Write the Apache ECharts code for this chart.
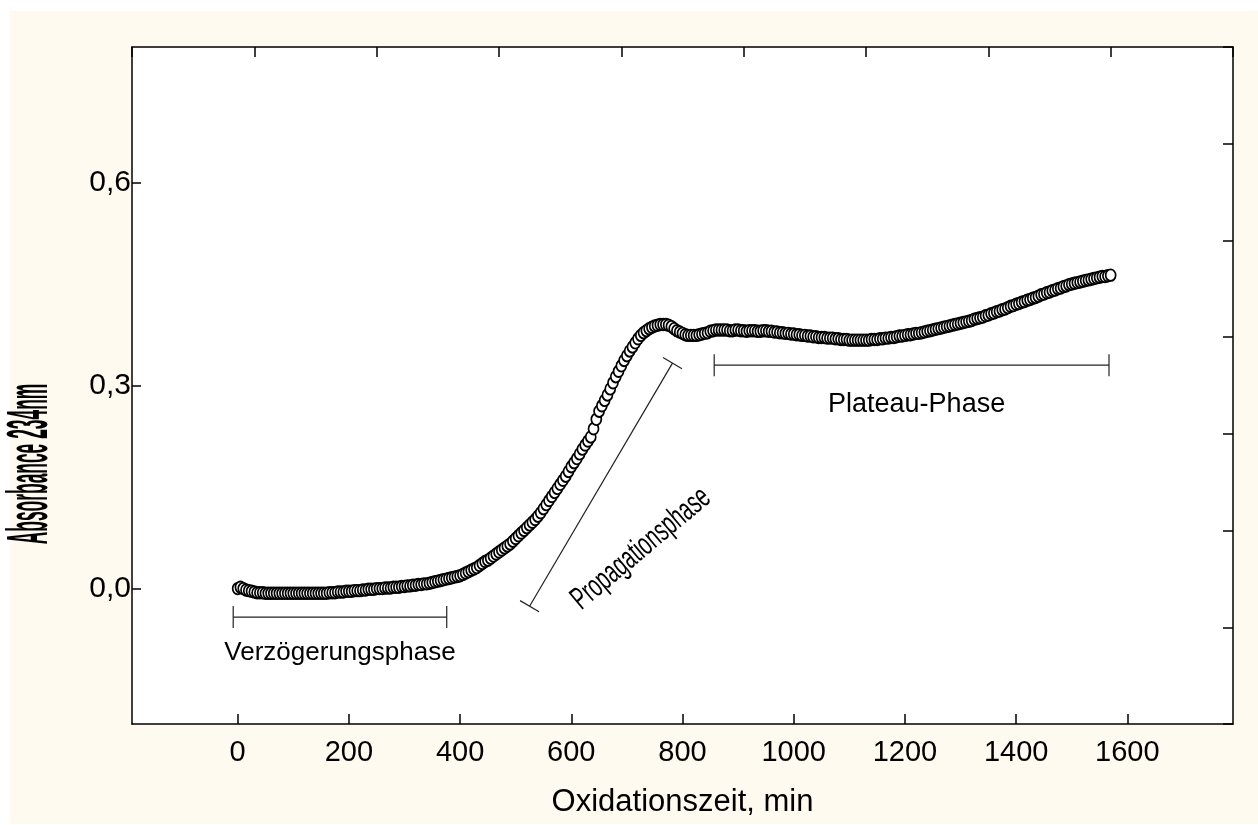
<!DOCTYPE html>
<html>
<head>
<meta charset="utf-8">
<script src="https://cdn.jsdelivr.net/npm/echarts@6/dist/echarts.min.js"></script>
<style>
  html, body { margin: 0; padding: 0; background: #ffffff; }
  #frame { position: absolute; left: 10px; top: 11px; width: 1248px; height: 813px; background: #fffaf0; }
  #chart { position: absolute; left: 0; top: 0; width: 1258px; height: 825px; }
</style>
</head>
<body>
<div id="frame"></div>
<div id="chart"></div>
<script>
// Absorbance at 234 nm during oxidation, one reading every 5 minutes from t = 0
const sampleStepMin = 5;
const absorbance = [
  0.000, 0.002, 0.000, -0.002, -0.003, -0.004, -0.005, -0.006, -0.006, -0.006,
  -0.007, -0.007, -0.007, -0.007, -0.007, -0.007, -0.007, -0.007, -0.007, -0.007,
  -0.007, -0.007, -0.007, -0.007, -0.007, -0.007, -0.007, -0.007, -0.007, -0.007,
  -0.007, -0.007, -0.007, -0.006, -0.006, -0.006, -0.005, -0.005, -0.005, -0.004,
  -0.004, -0.004, -0.003, -0.003, -0.003, -0.002, -0.002, -0.001, -0.001, -0.001,
  0.000, 0.000, 0.000, 0.001, 0.001, 0.001, 0.002, 0.002, 0.002, 0.003,
  0.003, 0.004, 0.004, 0.005, 0.005, 0.006, 0.006, 0.007, 0.007, 0.008,
  0.009, 0.010, 0.011, 0.012, 0.013, 0.014, 0.015, 0.016, 0.017, 0.018,
  0.019, 0.021, 0.023, 0.025, 0.027, 0.029, 0.031, 0.034, 0.037, 0.040,
  0.042, 0.045, 0.048, 0.051, 0.054, 0.057, 0.060, 0.063, 0.066, 0.070,
  0.074, 0.078, 0.082, 0.086, 0.090, 0.094, 0.098, 0.102, 0.107, 0.112,
  0.118, 0.124, 0.130, 0.136, 0.142, 0.148, 0.154, 0.160, 0.166, 0.173,
  0.180, 0.186, 0.192, 0.199, 0.206, 0.212, 0.218, 0.224, 0.236, 0.250,
  0.262, 0.270, 0.278, 0.286, 0.295, 0.304, 0.313, 0.321, 0.329, 0.337,
  0.344, 0.351, 0.357, 0.363, 0.369, 0.374, 0.378, 0.381, 0.384, 0.386,
  0.388, 0.389, 0.390, 0.390, 0.390, 0.389, 0.387, 0.384, 0.381, 0.379,
  0.377, 0.375, 0.374, 0.374, 0.374, 0.374, 0.375, 0.376, 0.377, 0.378,
  0.380, 0.381, 0.382, 0.382, 0.382, 0.382, 0.382, 0.381, 0.381, 0.382,
  0.382, 0.381, 0.381, 0.380, 0.381, 0.381, 0.381, 0.380, 0.380, 0.381,
  0.381, 0.380, 0.380, 0.379, 0.379, 0.378, 0.378, 0.377, 0.377, 0.376,
  0.376, 0.375, 0.375, 0.374, 0.374, 0.373, 0.373, 0.372, 0.372, 0.371,
  0.371, 0.371, 0.370, 0.370, 0.370, 0.369, 0.369, 0.368, 0.368, 0.368,
  0.367, 0.367, 0.367, 0.367, 0.367, 0.367, 0.367, 0.367, 0.368, 0.368,
  0.368, 0.369, 0.369, 0.370, 0.370, 0.371, 0.371, 0.372, 0.373, 0.373,
  0.374, 0.375, 0.375, 0.376, 0.377, 0.377, 0.378, 0.379, 0.380, 0.381,
  0.382, 0.383, 0.384, 0.385, 0.386, 0.387, 0.388, 0.389, 0.390, 0.391,
  0.392, 0.393, 0.394, 0.395, 0.396, 0.398, 0.399, 0.400, 0.401, 0.403,
  0.404, 0.406, 0.407, 0.409, 0.410, 0.412, 0.413, 0.415, 0.417, 0.418,
  0.420, 0.421, 0.423, 0.424, 0.426, 0.427, 0.429, 0.430, 0.432, 0.434,
  0.435, 0.437, 0.438, 0.440, 0.441, 0.443, 0.444, 0.446, 0.447, 0.449,
  0.450, 0.451, 0.452, 0.453, 0.454, 0.455, 0.456, 0.457, 0.458, 0.459,
  0.460, 0.461, 0.461, 0.462, 0.463
];

// Tick positions on the time and absorbance axes
const timeTicks = [0, 200, 400, 600, 800, 1000, 1200, 1400, 1600];
const absTicks = [0, 0.3, 0.6];

// Kinetic phases: name, start [time, absorbance], end [time, absorbance]
const phaseNames = ['Verzögerungsphase', 'Propagationsphase', 'Plateau-Phase'];
const phaseStart = [[-8, -0.042], [525, -0.026], [857, 0.330]];
const phaseEnd = [[376, -0.042], [782, 0.333], [1567, 0.330]];

const FONT = "'Liberation Sans', Arial, sans-serif";

const points = absorbance.map((a, i) => [i * sampleStepMin, a]);
const phaseRows = phaseNames.map((n, i) => [phaseStart[i][0], phaseStart[i][1], phaseEnd[i][0], phaseEnd[i][1], i]);

// label placement relative to each bracket (pixels along / across the bracket), text angle and size
const phaseLabelStyle = [
  { along: 0, across: 36, angle: null, size: 26, scaleX: 1 },
  { along: -35, across: 67, angle: 40, size: 32, scaleX: 0.62 },
  { along: 5, across: 39, angle: null, size: 27, scaleX: 1 }
];

function renderPhase(params, api) {
  const p1 = api.coord([api.value(0), api.value(1)]);
  const p2 = api.coord([api.value(2), api.value(3)]);
  const idx = api.value(4);
  const dx = p2[0] - p1[0], dy = p2[1] - p1[1];
  const len = Math.sqrt(dx * dx + dy * dy);
  const ux = dx / len, uy = dy / len;
  // normal pointing to the lower side of the bracket
  let nx = -uy, ny = ux;
  if (ny < 0) { nx = -nx; ny = -ny; }
  const cap = 11;
  const lineStyle = { stroke: '#222', lineWidth: 1.2 };
  const mk = (a, b) => ({ type: 'line', shape: { x1: a[0], y1: a[1], x2: b[0], y2: b[1] }, style: lineStyle });
  const ls = phaseLabelStyle[idx];
  const mx = (p1[0] + p2[0]) / 2 + ux * ls.along + nx * ls.across;
  const my = (p1[1] + p2[1]) / 2 + uy * ls.along + ny * ls.across;
  const rot = ls.angle === null ? 0 : ls.angle * Math.PI / 180;
  return {
    type: 'group',
    children: [
      mk(p1, p2),
      mk([p1[0] - nx * cap, p1[1] - ny * cap], [p1[0] + nx * cap, p1[1] + ny * cap]),
      mk([p2[0] - nx * cap, p2[1] - ny * cap], [p2[0] + nx * cap, p2[1] + ny * cap]),
      {
        type: 'text',
        x: mx, y: my,
        rotation: rot,
        scaleX: ls.scaleX,
        style: {
          text: phaseNames[idx],
          x: 0, y: 0,
          fill: '#000',
          font: ls.size + 'px ' + FONT,
          align: 'center',
          verticalAlign: 'middle'
        }
      }
    ]
  };
}

const axisLine = { show: true, onZero: false, lineStyle: { color: '#000', width: 1.5 } };
const tickStyle = { color: '#000', width: 1.5 };

const option = {
  animation: false,
  backgroundColor: 'transparent',
  grid: { left: 132, top: 47, right: 25, bottom: 101, show: true, backgroundColor: '#ffffff', borderWidth: 0 },
  xAxis: [
    {
      type: 'value', position: 'bottom', min: -190, max: 1790,
      axisLine: axisLine,
      axisTick: { show: true, inside: true, length: 10, lineStyle: tickStyle, customValues: timeTicks },
      axisLabel: {
        show: true, customValues: timeTicks, margin: 14, color: '#000', fontSize: 29, fontFamily: FONT,
        formatter: v => String(v)
      },
      splitLine: { show: false },
      name: 'Oxidationszeit, min', nameLocation: 'middle', nameGap: 63,
      nameTextStyle: { color: '#000', fontSize: 31, fontFamily: FONT }
    },
    {
      type: 'value', position: 'top', min: 0, max: 9, interval: 1,
      axisLine: axisLine,
      axisTick: { show: true, inside: true, length: 10, lineStyle: tickStyle },
      axisLabel: { show: false }, splitLine: { show: false }
    }
  ],
  yAxis: [
    {
      type: 'value', position: 'left', min: -0.2, max: 0.8,
      axisLine: axisLine,
      axisTick: { show: true, inside: true, length: 9, lineStyle: tickStyle, customValues: absTicks },
      axisLabel: {
        show: true, customValues: absTicks, margin: 1, color: '#000', fontSize: 30, fontFamily: FONT,
        formatter: v => v.toFixed(1).replace('.', ',')
      },
      splitLine: { show: false }
    },
    {
      type: 'value', position: 'right', min: 0, max: 7, interval: 1,
      axisLine: axisLine,
      axisTick: { show: true, inside: true, length: 10, lineStyle: tickStyle },
      axisLabel: { show: false }, splitLine: { show: false }
    }
  ],
  graphic: [
    {
      type: 'text', x: 31, y: 464, rotation: Math.PI / 2, scaleX: 0.3,
      style: { text: 'Absorbance 234nm', fill: '#000', font: 'bold 58px ' + FONT, align: 'center', verticalAlign: 'middle' }
    }
  ],
  series: [
    {
      type: 'custom', xAxisIndex: 0, yAxisIndex: 0,
      renderItem: renderPhase, data: phaseRows, silent: true, z: 1
    },
    {
      type: 'scatter', xAxisIndex: 0, yAxisIndex: 0,
      data: points, symbol: 'circle', symbolSize: [10, 11.5],
      itemStyle: { color: '#ffffff', borderColor: '#000000', borderWidth: 1.8, opacity: 1 },
      silent: true, z: 3
    }
  ]
};

const chart = echarts.init(document.getElementById('chart'), null, { renderer: 'canvas' });
chart.setOption(option);
</script>
</body>
</html>
